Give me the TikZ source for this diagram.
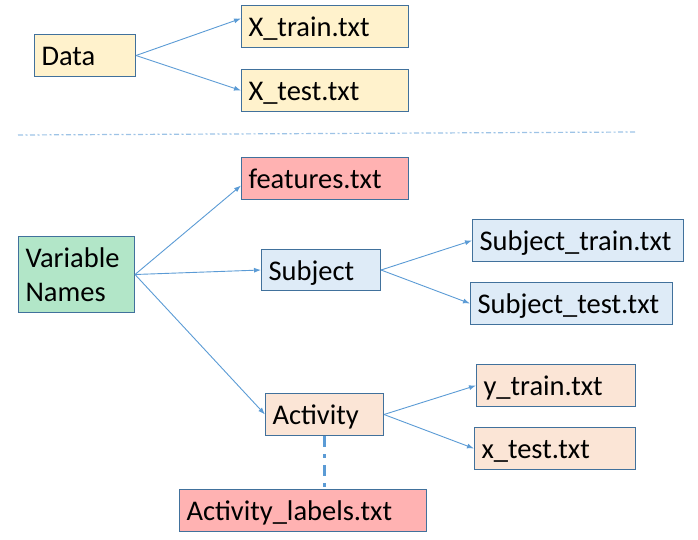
\documentclass[tikz,border=0pt]{standalone}
\usepackage{fontspec}
\setmainfont{Carlito}
\usepackage{tikz}
\usetikzlibrary{calc,
	positioning,
	arrows.meta}
\definecolor{boxline}{HTML}{41719C}
\definecolor{yellowfill}{HTML}{FFF2CC}
\definecolor{redfill}{HTML}{FFB2B2}
\definecolor{greenfill}{HTML}{B2E6C8}
\definecolor{bluefill}{HTML}{DEEBF7}
\definecolor{peachfill}{HTML}{FBE5D6}
\definecolor{linkblue}{HTML}{5B9BD5}
\definecolor{seplight}{HTML}{9DC3E6}
\tikzset{
	box/.style={draw=boxline, line width=1pt, anchor=north west, inner xsep=7pt, inner ysep=0pt,
		align=left, font=\fontsize{28.5}{34}\selectfont},
	file/.style={box, minimum height=42pt, text height=22pt, text depth=2pt},
	link/.style={->, >={Latex[length=7pt,width=5pt]}, draw=linkblue, line width=0.9pt},
}

\begin{document}
\begin{tikzpicture}[x=1pt, y=-1pt]
		\useasboundingbox (0,0) rectangle (698,539);
		% data files
		\node [file, fill=yellowfill, text width=87pt] (data) at (34,34) {Data};
		\node [file, fill=yellowfill, text width=153pt] (xtrain) at (241,5) {X\_train.txt};
		\node [file, fill=yellowfill, text width=153pt, below=21pt of xtrain.south west, anchor=north west] (xtest) {X\_test.txt};
		\draw [link] (data.east) -- ([yshift=8pt]xtrain.west);
		\draw [link] (data.east) -- (xtest.west);
		% separator
		\coordinate (sepL) at (18,135);
		\coordinate (sepR) at (636,132);
		\draw [seplight, line width=1.2pt, dash pattern=on 5pt off 2.5pt on 2pt off 2.5pt] (sepL) -- (sepR);
		% variable names
		\node [box, fill=greenfill, minimum height=76pt, text width=102pt] (varnames) at (18,236) {Variable\\Names};
		\node [file, fill=redfill, text width=153pt] (features) at (241,157) {features.txt};
		\node [file, fill=bluefill, minimum height=41pt, text width=105pt] (subject) at (261,249) {Subject};
		\node [file, fill=peachfill, text width=104pt] (activity) at (265,393) {Activity};
		\draw [link] (varnames.east) -- ([yshift=-7pt]features.west);
		\draw [link] (varnames.east) -- (subject.west);
		\draw [link] (varnames.east) -- (activity.west);
		% subject files
		\node [file, fill=bluefill, text width=197pt] (subjtrain) at (472,219) {Subject\_train.txt};
		\node [file, fill=bluefill, text width=188pt] (subjtest) at (470,282) {Subject\_test.txt};
		\draw [link] (subject.east) -- (subjtrain.west);
		\draw [link] (subject.east) -- (subjtest.west);
		% activity files
		\node [file, fill=peachfill, text width=145pt] (ytrain) at (476,364) {y\_train.txt};
		\node [file, fill=peachfill, text width=147pt] (xtst) at (474,427) {x\_test.txt};
		\draw [link] (activity.east) -- (ytrain.west);
		\draw [link] (activity.east) -- (xtst.west);
		\node [file, fill=redfill, text width=233pt] (actlabels) at (179,489) {Activity\_labels.txt};
		\draw [linkblue, line width=3pt, dash pattern=on 11pt off 7pt on 4pt off 7pt] (activity.south) -- (activity.south |- actlabels.north);
	\end{tikzpicture}
\end{document}
